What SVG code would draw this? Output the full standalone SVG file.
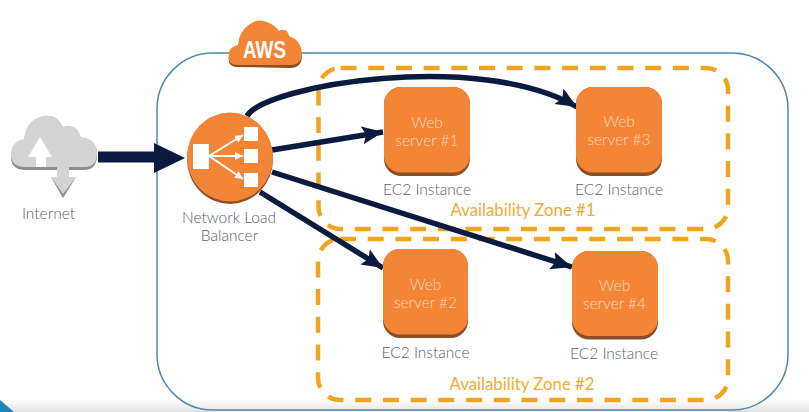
<svg xmlns="http://www.w3.org/2000/svg" width="809" height="412" viewBox="0 0 809 412">
<defs>
<linearGradient id="bot" x1="0" y1="0" x2="0" y2="1"><stop offset="0" stop-color="#ffffff"/><stop offset="1" stop-color="#e2e2e2"/></linearGradient>
<marker id="ah" markerUnits="userSpaceOnUse" markerWidth="26" markerHeight="22" refX="21" refY="10" orient="auto"><path d="M0 1L21 10L0 19L4 10Z" fill="#0b1a3f"/></marker>
<marker id="tip" markerUnits="userSpaceOnUse" markerWidth="10" markerHeight="10" refX="8" refY="4" orient="auto"><path d="M0 0L8 4L0 8Z" fill="#fff"/></marker>
</defs>
<style>
text{font-family:Lato,"Open Sans",sans-serif;font-weight:300}
.lbl{font-size:15.5px;fill:#5a5f6b;text-anchor:middle}
.web{font-size:15.5px;fill:#fbd9b8;text-anchor:middle}
.zone{font-size:16.8px;fill:#f0ab33;text-anchor:middle;font-weight:400}
.dash{fill:none;stroke:#f0a522;stroke-width:4.5;stroke-dasharray:16 11.7}
.conn{fill:none;stroke:#0b1a3f;stroke-width:5.5;marker-end:url(#ah)}
.srv{fill:#f58536}.srvb{fill:#8a4f26}
.ic{fill:#fff}.icl{stroke:#fff;stroke-width:2;fill:none;marker-end:url(#tip)}
</style>
<rect width="809" height="412" fill="#fff"/>
<rect x="0" y="400" width="809" height="12" fill="url(#bot)"/>
<path d="M0 400L14 412H0Z" fill="#1f84bd"/>
<g id="aws-region">
<rect x="157" y="53" width="631" height="357" rx="56" fill="none" stroke="#4f8bab" stroke-width="1.5"/>
</g>
<g id="zone-1">
<rect x="318.500" y="68" width="409.500" height="161" rx="22" class="dash"/>
<text x="523" y="216" class="zone">Availability Zone #1</text>
</g>
<g id="zone-2">
<rect x="318" y="239" width="410" height="161" rx="22" class="dash"/>
<text x="522" y="390" class="zone">Availability Zone #2</text>
</g>
<g id="aws-cloud">
<path d="M237 67Q227 67 229 56Q229 49 238 47Q239 33 250 26Q258 19 267 24Q275 27 279 33Q287 29 289 38Q301 42 302 55Q302 68 290 68Z" fill="#8a4f26"/>
<path d="M237 65Q227 65 229 54Q229 47 238 45Q239 31 250 24Q258 18 267 22Q275 25 279 31Q287 27 289 36Q301 40 302 53Q302 65 290 65Z" fill="#f58536"/>
<text x="264.500" y="58" fill="#fff" text-anchor="middle" textLength="43" lengthAdjust="spacingAndGlyphs" style="font-family:'Liberation Sans Narrow','Liberation Sans',sans-serif;font-weight:700;font-size:23px">AWS</text>
</g>
<g id="internet">
<path d="M24 170Q10 169 11 155Q12 143 24 141Q26 122 43 117Q57 113 64 129Q76 124 81 139Q97 141 97 155Q97 170 84 170Z" fill="#8e8e8e"/>
<path d="M24 167Q10 166 11 153Q12 141 24 139Q26 120 43 116Q57 113 63 127Q76 122 81 137Q97 139 97 153Q97 167 84 167Z" fill="#d4d4d4"/>
<path d="M40 137L28 157H36V167H46V157H52Z" fill="#fff"/>
<path d="M57 167H69V177H76L63 198L51 177H57Z" fill="#d4d4d4"/>
<path d="M51 177L63 198L76 177L63 194Z" fill="#8e8e8e"/>
<text x="48.500" y="219" class="lbl">Internet</text>
</g>
<g id="connectors">
<path d="M98 157H155" fill="none" stroke="#0b1a3f" stroke-width="11"/>
<path d="M154 143L185 158L154 173Z" fill="#0b1a3f"/>
<path class="conn" d="M272 150L383 132"/>
<path class="conn" d="M247 116C265 85 480 50 577 107"/>
<path class="conn" d="M260 192L383 268"/>
<path class="conn" d="M272 172L572 267"/>
</g>
<g id="load-balancer">
<ellipse cx="230" cy="159" rx="43" ry="45" fill="#8a4f26"/>
<ellipse cx="230" cy="157" rx="43" ry="44.500" fill="#f58536"/>
<rect x="193" y="144" width="16" height="25" class="ic"/>
<rect x="244" y="127" width="14" height="14" class="ic"/>
<rect x="244" y="149" width="14" height="14" class="ic"/>
<rect x="244" y="173" width="14" height="14" class="ic"/>
<path d="M209 156L243 135" class="icl"/>
<path d="M209 156H243" class="icl"/>
<path d="M209 156L243 179" class="icl"/>
<text x="229" y="223" class="lbl">Network Load</text>
<text x="229.500" y="241" class="lbl">Balancer</text>
</g>
<g id="web-1">
<rect x="384" y="87" width="86" height="89" rx="17" class="srvb"/>
<rect x="384" y="87" width="86" height="85.500" rx="17" class="srv"/>
<text x="427" y="128" class="web">Web</text>
<text x="427" y="146" class="web">server #1</text>
<text x="427" y="195" class="lbl">EC2 Instance</text>
</g>
<g id="web-3">
<rect x="576" y="87" width="86" height="89" rx="17" class="srvb"/>
<rect x="576" y="87" width="86" height="85.500" rx="17" class="srv"/>
<text x="619" y="127" class="web">Web</text>
<text x="619" y="145" class="web">server #3</text>
<text x="619" y="195" class="lbl">EC2 Instance</text>
</g>
<g id="web-2">
<rect x="383" y="249" width="85" height="89" rx="17" class="srvb"/>
<rect x="383" y="249" width="85" height="85.500" rx="17" class="srv"/>
<text x="425.500" y="290" class="web">Web</text>
<text x="425.500" y="308" class="web">server #2</text>
<text x="425.500" y="358" class="lbl">EC2 Instance</text>
</g>
<g id="web-4">
<rect x="572" y="251" width="86" height="88.500" rx="17" class="srvb"/>
<rect x="572" y="251" width="86" height="85" rx="17" class="srv"/>
<text x="614.500" y="291" class="web">Web</text>
<text x="614.500" y="309" class="web">server #4</text>
<text x="614" y="359" class="lbl">EC2 Instance</text>
</g>
</svg>
